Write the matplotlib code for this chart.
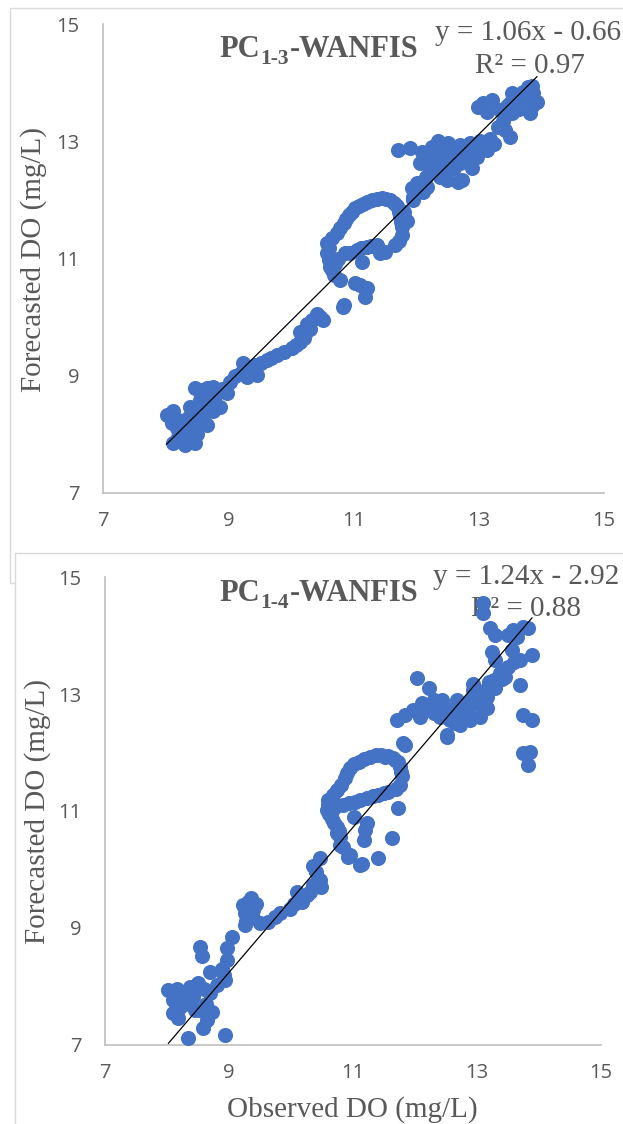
import numpy as np
import matplotlib.pyplot as plt
from matplotlib.patches import Rectangle

W, H = 623, 1124

# observed vs forecasted DO (mg/L)
pc13_points = [
    (8.01, 8.33), (8.12, 8.39), (8.09, 8.19), (8.12, 7.85), (8.31, 7.82), (8.47, 7.85),
    (8.28, 8.02), (8.44, 8.13), (8.65, 8.16), (8.47, 8.79), (8.65, 8.79), (8.55, 8.59),
    (8.39, 8.47), (8.86, 8.47), (8.97, 8.70), (9.02, 8.90), (8.20, 8.25), (8.20, 7.95),
    (8.36, 8.28), (8.50, 8.30), (8.58, 8.45), (8.70, 8.55), (8.78, 8.66), (8.90, 8.78),
    (8.35, 8.05), (8.55, 8.73), (8.40, 7.92), (8.50, 8.00), (8.60, 8.30), (8.18, 8.10),
    (8.75, 8.40), (8.58, 8.75), (8.75, 8.80),
    (9.24, 9.21), (9.29, 8.98), (9.45, 9.01), (9.42, 9.18), (9.61, 9.27), (9.77, 9.35),
    (10.01, 9.47), (10.14, 9.58), (10.14, 9.75), (10.25, 9.89), (10.41, 10.06), (10.51, 9.95),
    (10.83, 10.18), (9.35, 9.15), (9.52, 9.22), (9.68, 9.30), (9.88, 9.40), (10.08, 9.52),
    (10.20, 9.65), (10.30, 9.80), (10.33, 9.95), (10.46, 10.00), (9.10, 9.00), (9.20, 9.05),
    (9.35, 9.05), (10.22, 9.72),
    (10.57, 11.26), (10.57, 11.09), (10.62, 10.86), (10.68, 10.72), (10.78, 10.63), (10.73, 11.43),
    (10.84, 11.60), (10.92, 11.74), (11.02, 11.86), (11.15, 11.94), (11.29, 12.00), (11.45, 12.03),
    (11.58, 12.00), (11.69, 11.89), (11.74, 11.72), (11.77, 11.54), (11.77, 11.40), (11.66, 11.23),
    (11.42, 11.09), (11.37, 11.23), (11.21, 11.20), (11.05, 11.15), (10.86, 11.09), (11.13, 10.95),
    (11.02, 10.58), (11.21, 10.49), (11.18, 10.35), (10.84, 10.21), (10.60, 11.18), (10.60, 10.98),
    (10.65, 10.80), (10.75, 11.00), (10.95, 11.10), (10.66, 11.35), (10.78, 11.52), (10.88, 11.67),
    (10.97, 11.80), (11.08, 11.90), (11.22, 11.97), (11.37, 12.02), (11.52, 12.02), (11.64, 11.95),
    (11.72, 11.80), (11.76, 11.63), (11.72, 11.30), (11.50, 11.12), (11.28, 11.21), (11.12, 11.18),
    (10.70, 10.90), (11.10, 10.55), (11.80, 11.80), (11.85, 11.65),
    (11.95, 12.00), (11.93, 12.20), (12.01, 12.29), (12.17, 12.23), (12.49, 12.34), (12.67, 12.31),
    (13.79, 13.93), (13.87, 13.82), (13.93, 13.68), (13.77, 13.76), (13.82, 13.48), (13.53, 13.82),
    (13.50, 13.65), (13.53, 13.48), (13.21, 13.71), (13.07, 13.65), (12.99, 13.59), (13.13, 13.51),
    (13.34, 13.54), (13.42, 13.19), (13.50, 13.08), (13.31, 13.25), (13.18, 13.05), (13.02, 13.00),
    (12.86, 12.97), (12.70, 12.94), (12.51, 12.97), (12.35, 13.00), (12.25, 12.91), (12.09, 12.82),
    (11.90, 12.88), (11.71, 12.85), (12.06, 12.63), (12.22, 12.68), (12.38, 12.74), (12.54, 12.68),
    (12.70, 12.80), (12.81, 12.68), (12.97, 12.74), (13.13, 12.85), (12.22, 12.51), (12.49, 12.51),
    (12.70, 12.63), (12.73, 12.34), (12.38, 12.40), (12.01, 12.23), (12.11, 12.14), (11.95, 12.06),
    (12.30, 12.85), (12.45, 12.85), (12.60, 12.80), (12.60, 12.55), (12.88, 12.85), (13.05, 12.88),
    (12.90, 12.55), (13.25, 12.95), (13.38, 13.35), (13.45, 13.60), (13.62, 13.70), (13.70, 13.85),
    (13.85, 13.60), (13.65, 13.55), (13.10, 13.60), (12.15, 12.40), (12.30, 12.60), (12.45, 12.65),
    (12.85, 12.75), (13.85, 13.95),
]

pc14_points = [
    (8.02, 7.94), (8.15, 7.96), (8.10, 7.76), (8.10, 7.54), (8.26, 7.71), (8.37, 7.99),
    (8.50, 8.05), (8.42, 7.82), (8.53, 7.59), (8.72, 7.56), (8.58, 7.28), (8.64, 7.42),
    (8.34, 7.11), (8.93, 7.17), (8.69, 7.88), (8.80, 8.02), (8.93, 8.11), (8.69, 8.25),
    (8.53, 8.68), (8.56, 8.51), (8.96, 8.45), (8.96, 8.65), (9.04, 8.85), (8.20, 7.85),
    (8.30, 7.90), (8.45, 7.95), (8.35, 7.70), (8.20, 7.65), (8.60, 7.95), (8.88, 8.30),
    (8.92, 8.20), (8.45, 7.60), (8.62, 7.70), (8.18, 7.45),
    (9.26, 9.05), (9.23, 9.39), (9.36, 9.51), (9.39, 9.30), (9.39, 9.16), (9.50, 9.08),
    (9.63, 9.10), (9.74, 9.19), (9.82, 9.25), (9.98, 9.33), (10.09, 9.62), (10.17, 9.45),
    (10.25, 9.56), (10.36, 9.73), (10.47, 9.82), (10.49, 9.70), (10.36, 10.05), (10.47, 10.19),
    (9.25, 9.25), (9.30, 9.45), (9.28, 9.12), (9.33, 9.20), (9.44, 9.40), (10.05, 9.40),
    (10.12, 9.55), (10.30, 9.62), (10.42, 9.78), (10.40, 9.95),
    (10.74, 10.62), (10.79, 10.42), (10.92, 10.22), (11.11, 10.07), (10.60, 11.19), (10.74, 11.36),
    (10.87, 11.56), (10.95, 11.73), (11.09, 11.84), (11.27, 11.93), (11.46, 11.96), (11.65, 11.90),
    (11.76, 11.76), (11.79, 11.59), (11.76, 11.44), (11.57, 11.33), (11.41, 11.27), (11.22, 11.22),
    (11.03, 11.16), (10.84, 11.10), (10.58, 11.02), (10.66, 10.87), (10.74, 10.73), (10.79, 10.56),
    (10.84, 10.39), (10.95, 10.25), (11.01, 10.90), (11.22, 10.79), (11.19, 10.67), (11.17, 10.50),
    (11.73, 11.05), (11.63, 10.53), (11.14, 10.10), (11.41, 10.19), (11.52, 11.93), (11.68, 11.87),
    (10.60, 11.10), (10.62, 10.95), (10.68, 11.28), (10.80, 11.45), (10.91, 11.65), (11.02, 11.80),
    (11.18, 11.89), (11.37, 11.95), (11.56, 11.94), (11.72, 11.83), (11.78, 11.67), (11.70, 11.38),
    (11.50, 11.30), (11.32, 11.25), (11.12, 11.19), (10.93, 11.13), (10.70, 10.80), (10.77, 10.65),
    (10.70, 11.05),
    (11.84, 12.13), (12.51, 12.27), (13.10, 14.55), (13.10, 14.38), (13.21, 14.13), (13.29, 14.01),
    (13.24, 13.72), (13.29, 13.58), (13.51, 14.01), (13.59, 14.10), (13.75, 14.15), (13.83, 14.13),
    (13.56, 13.75), (13.89, 13.67), (13.70, 13.58), (13.51, 13.47), (13.37, 13.36), (13.70, 13.16),
    (13.27, 13.24), (13.29, 13.10), (13.16, 12.95), (12.94, 13.18), (13.16, 12.76), (13.05, 12.61),
    (12.89, 12.56), (12.81, 12.81), (12.68, 12.90), (12.03, 13.27), (12.22, 13.10), (11.71, 12.56),
    (11.84, 12.64), (11.97, 12.73), (12.08, 12.61), (12.11, 12.84), (12.30, 12.90), (12.43, 12.90),
    (12.30, 12.67), (12.49, 12.70), (12.57, 12.56), (12.51, 12.30), (12.73, 12.47), (12.76, 12.67),
    (12.89, 12.90), (12.94, 13.07), (11.81, 12.16), (13.75, 12.64), (13.89, 12.56), (13.75, 11.99),
    (13.86, 12.01), (13.83, 11.79), (12.40, 12.60), (12.60, 12.75), (12.20, 12.78), (12.65, 12.50),
    (12.35, 12.78), (13.00, 12.85), (13.45, 13.42), (13.60, 13.55), (13.40, 13.25), (13.20, 13.20),
    (13.65, 13.97), (12.85, 12.70), (13.10, 13.05), (13.45, 13.30),
]

# trendline coefficients shown on the chart (slope, intercept)
trend_13 = (1.06, -0.66)
trend_14 = (1.24, -2.92)
eq_13 = ["y = 1.06x - 0.66", "R² = 0.97"]
eq_14 = ["y = 1.24x - 2.92", "R² = 0.88"]
ticks = [7, 9, 11, 13, 15]

GREY = "#595959"
BLUE = "#4472C4"
SERIF = "Liberation Serif"


def fx(x):
    return x / W


def fy(y):
    return 1 - y / H


def style_axes(ax):
    ax.set_xlim(7, 15)
    ax.set_ylim(7, 15)
    ax.set_xticks(ticks)
    ax.set_yticks(ticks)
    ax.spines["top"].set_visible(False)
    ax.spines["right"].set_visible(False)
    for s in ["left", "bottom"]:
        ax.spines[s].set_color("#bfbfbf")
        ax.spines[s].set_linewidth(1.2)
    ax.tick_params(length=0, labelsize=14.5, labelcolor=GREY)
    ax.tick_params(axis="y", pad=17)
    ax.tick_params(axis="x", pad=13)
    for lab in ax.get_xticklabels() + ax.get_yticklabels():
        lab.set_family("Open Sans")
    ax.patch.set_alpha(0)


def draw_panel(ax, points, trend):
    obs, fc = np.array(points).T
    ax.scatter(obs, fc, s=118, color=BLUE, linewidths=0, zorder=3, clip_on=False)
    xs = np.array([obs.min(), obs.max()])
    ax.plot(xs, trend[0] * xs + trend[1], color="black", lw=0.9, zorder=4)
    style_axes(ax)


def draw_title(fig, ax, x, y, sub):
    kw = dict(family=SERIF, fontweight="bold", color=GREY, va="baseline",
              transform=fig.transFigure, zorder=2)
    r = fig.canvas.get_renderer()
    t1 = ax.text(fx(x), fy(y), "PC", fontsize=22, **kw)
    b1 = t1.get_window_extent(r)
    t2 = ax.text(fx(b1.x1 + 1), fy(y + 7), sub, fontsize=15.5, **kw)
    b2 = t2.get_window_extent(r)
    ax.text(fx(b2.x1 + 1), fy(y), "-WANFIS", fontsize=22, **kw)


fig = plt.figure(figsize=(W / 100, H / 100), dpi=100)

# chart area frames (two overlapping Excel charts)
fig.add_artist(Rectangle((fx(10), fy(583)), 1.2, fy(8) - fy(583), transform=fig.transFigure,
                         facecolor="white", edgecolor="#d9d9d9", lw=1, zorder=-2))
fig.add_artist(Rectangle((fx(15), -0.1), 1.2, fy(553) + 0.1, transform=fig.transFigure,
                         facecolor="white", edgecolor="#d9d9d9", lw=1, zorder=-1))

ax1 = fig.add_axes([fx(103.3), fy(492.9), 500.6 / W, 468.6 / H])
ax2 = fig.add_axes([fx(105.3), fy(1044.7), 495.4 / W, 467.5 / H])

draw_panel(ax1, pc13_points, trend_13)
draw_panel(ax2, pc14_points, trend_14)

fig.canvas.draw()
draw_title(fig, ax1, 219, 57, "1-3")
draw_title(fig, ax2, 219, 601, "1-4")

eq_kw = dict(family=SERIF, fontsize=21, color=GREY, va="baseline", zorder=2)
ax1.text(fx(435), fy(40), eq_13[0], transform=fig.transFigure, **eq_kw)
ax1.text(fx(475), fy(73), eq_13[1], transform=fig.transFigure, **eq_kw)
ax2.text(fx(433), fy(584), eq_14[0], transform=fig.transFigure, **eq_kw)
ax2.text(fx(471), fy(616), eq_14[1], transform=fig.transFigure, **eq_kw)

lab_kw = dict(family=SERIF, fontsize=21, color=GREY, ha="center", va="center")
fig.text(fx(34), fy(259), "Forecasted DO (mg/L)", rotation=90, **lab_kw)
fig.text(fx(38), fy(812), "Forecasted DO (mg/L)", rotation=90, **lab_kw)
fig.text(fx(352), fy(1110), "Observed DO (mg/L)", **lab_kw)

fig.savefig("out.png", dpi=100)
